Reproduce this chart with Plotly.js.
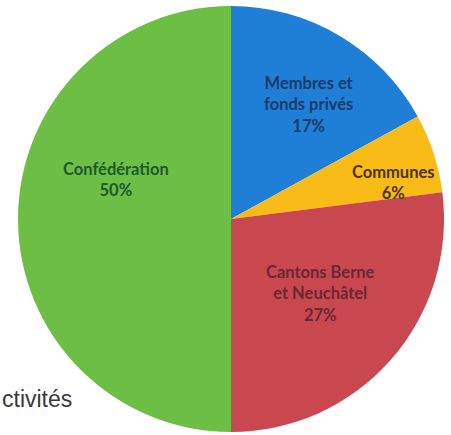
<!DOCTYPE html>
<html>
<head>
<meta charset="utf-8">
<script src="https://cdn.plot.ly/plotly-3.0.1.min.js"></script>
<style>html,body{margin:0;padding:0;background:#fff;}#chart{width:451px;height:435px;}</style>
</head>
<body>
<div id="chart"></div>
<script>
// Data
const categories = ["Membres et fonds privés", "Communes", "Cantons Berne et Neuchâtel", "Confédération"];
const labelLines = [["Membres et", "fonds privés"], ["Communes"], ["Cantons Berne", "et Neuchâtel"], ["Confédération"]];
const shares = [17, 6, 27, 50];
const titleFragment = "ctivités";

// Styles
const sliceColors = ["#1f7ed6", "#f9bb17", "#c9474f", "#6dbe44"];
const textColors = ["#1c3a6a", "#4d3110", "#6a2733", "#1c5a2c"];
const labelPos = [[309, 104], [393, 183], [320, 293], [116, 180]];

const W = 451, H = 435;
const cx = 231, cy = 219, r = 213;

const annotations = categories.map((c, i) => ({
  xref: "paper", yref: "paper",
  x: labelPos[i][0] / W, y: 1 - labelPos[i][1] / H,
  xanchor: "center", yanchor: "middle",
  text: labelLines[i].join("<br>") + "<br>" + shares[i] + "%",
  showarrow: false,
  font: {family: "Lato, 'Open Sans', sans-serif", size: 16.5, color: textColors[i], weight: "bold"},
  align: "center"
}));
annotations.push({
  xref: "paper", yref: "paper", x: 0, y: 1 - 399 / H,
  xanchor: "left", yanchor: "middle", showarrow: false,
  text: titleFragment,
  font: {family: "'Liberation Sans', Arial, sans-serif", size: 23, color: "#3a3a3a"}
});

const data = [{
  type: "pie",
  labels: categories,
  values: shares,
  sort: false,
  direction: "clockwise",
  rotation: 0,
  textinfo: "none",
  hoverinfo: "label+percent",
  marker: {colors: sliceColors, line: {width: 0}},
  domain: {x: [(cx - r) / W, (cx + r) / W], y: [(H - cy - r) / H, (H - cy + r) / H]},
  showlegend: false
}];

const layout = {
  width: W, height: H,
  margin: {l: 0, r: 0, t: 0, b: 0},
  paper_bgcolor: "#ffffff",
  showlegend: false,
  annotations: annotations
};

Plotly.newPlot("chart", data, layout, {displayModeBar: false, staticPlot: true});
</script>
</body>
</html>
